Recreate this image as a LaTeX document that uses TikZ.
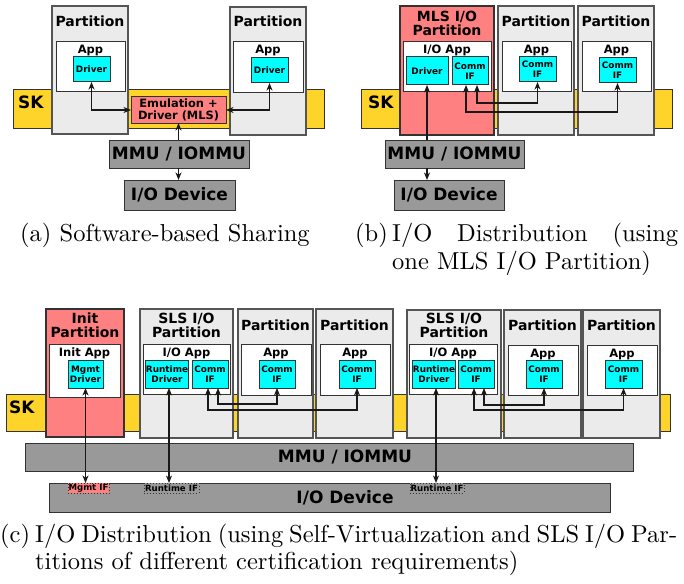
\documentclass[tikz,border=0pt]{standalone}
\usepackage{fontspec}
\newfontfamily\dejavu{DejaVu Sans}
\newfontfamily\capfont{lmroman10-regular}[Extension=.otf]
\usetikzlibrary{arrows.meta}

\definecolor{skyel}{HTML}{FFD42A}
\definecolor{salmon}{HTML}{FF8080}
\definecolor{partgray}{HTML}{EBEBEB}
\definecolor{hwgray}{HTML}{999999}
\definecolor{cyanbox}{HTML}{00FFFF}
\definecolor{edge}{HTML}{333333}
\definecolor{partedge}{HTML}{555555}

% box from (x1,y1) to (x2,y2): style, name, x1, y1, x2, y2, text
\newcommand{\rbox}[7]{\node[#1, minimum width={(#5)-(#3)}, minimum height={(#6)-(#4)}] (#2) at ({((#3)+(#5))/2},{((#4)+(#6))/2}) {#7};}

\tikzset{
  bx/.style={inner sep=0pt, outer sep=0pt},
  skbar/.style={bx, fill=skyel, draw=edge, line width=1},
  part/.style={bx, fill=partgray, draw=partedge, line width=1.1},
  mlspart/.style={part, fill=salmon, draw=edge},
  appbox/.style={bx, fill=white, draw=edge, line width=1},
  cybox/.style={bx, fill=cyanbox, draw=edge, line width=1, align=center,
    font=\dejavu\bfseries\fontsize{8.9}{10}\selectfont},
  emubox/.style={bx, fill=salmon, draw=edge, line width=1, align=center,
    font=\dejavu\bfseries\fontsize{11.4}{12}\selectfont},
  hwbox/.style={bx, fill=hwgray, draw=edge, line width=1,
    font=\dejavu\bfseries\fontsize{17}{17}\selectfont},
  hwtext/.style={inner sep=0pt, font=\dejavu\bfseries\fontsize{17}{17}\selectfont},
  ifbox/.style={bx, draw=edge, dotted, line width=0.9,
    font=\dejavu\bfseries\fontsize{8.6}{8}\selectfont},
  ptitle/.style={inner sep=0pt, anchor=base, align=center,
    font=\dejavu\bfseries\fontsize{14}{14}\selectfont},
  apptitle/.style={inner sep=0pt, anchor=base,
    font=\dejavu\bfseries\fontsize{11.5}{12}\selectfont},
  sktext/.style={inner sep=0pt, anchor=base west,
    font=\dejavu\bfseries\fontsize{17}{17}\selectfont},
  link/.style={line width=1.1, draw=black!90,
    >={Stealth[length=7.5pt,width=6pt,inset=2.2pt]}},
  captext/.style={inner sep=0pt, anchor=base west,
    font=\capfont\fontsize{24.5}{27.5}\selectfont}
}

\begin{document}
\begin{tikzpicture}[x=1pt,y=-1pt]
\useasboundingbox (0,0) rectangle (684,583);

% ---------------- (a) software-based sharing ----------------
\rbox{skbar}{skA}{13}{90}{324}{128}{}
\node[sktext] (skAt) at (18,109) {SK};
\rbox{part}{paL}{52}{6}{128}{134}{}
\node[ptitle] (paLt) at (90,27) {Partition};
\rbox{appbox}{apL}{56}{42}{125}{92}{}
\node[apptitle] (apLt) at (90.5,54) {App};
\rbox{cybox}{drL}{73}{57}{110}{82}{Driver}
\rbox{part}{paR}{230}{7}{306}{135}{}
\node[ptitle] (paRt) at (268,27) {Partition};
\rbox{appbox}{apR}{233}{42}{303}{93}{}
\node[apptitle] (apRt) at (268,54) {App};
\rbox{cybox}{drR}{251}{58}{288}{83}{Driver}
\rbox{emubox}{emu}{131}{97}{226}{123}{Emulation +\\Driver (MLS)}
\rbox{hwbox}{mmuA}{109}{140}{249}{168}{MMU / IOMMU}
\rbox{hwbox}{ioA}{124}{180}{235}{210}{I/O Device}
\draw[link,<->] (drL.south) |- (emu.west);
\draw[link,<->] (drR.south) |- (emu.east);
\draw[link,<-] (emu.south) -- (emu.south |- mmuA.north);
\draw[link,->] (emu.south |- mmuA.south) -- (emu.south |- ioA.north);

% ---------------- (b) one MLS I/O partition ----------------
\rbox{skbar}{skB}{361}{90}{672}{128}{}
\node[sktext] (skBt) at (368,109) {SK};
\rbox{mlspart}{mlsB}{400}{6}{494}{135}{}
\node[ptitle] (mlsBt) at (447,35.5) {MLS I/O\\Partition};
\rbox{appbox}{ioappB}{403}{42}{491}{92}{}
\node[apptitle] (ioappBt) at (447,54) {I/O App};
\rbox{cybox}{drB}{406}{57}{448}{85}{Driver}
\rbox{cybox}{cmB}{452}{57}{488}{85}{Comm\\IF}
\rbox{part}{pbA}{498}{6}{574}{135}{}
\node[ptitle] (pbAt) at (536,27) {Partition};
\rbox{appbox}{abA}{502}{42}{571}{92}{}
\node[apptitle] (abAt) at (536.5,54) {App};
\rbox{cybox}{cbA}{519}{57}{556}{82}{Comm\\IF}
\rbox{part}{pbB}{578}{6}{654}{135}{}
\node[ptitle] (pbBt) at (616,27) {Partition};
\rbox{appbox}{abB}{582}{42}{651}{92}{}
\node[apptitle] (abBt) at (616.5,54) {App};
\rbox{cybox}{cbB}{599}{58}{636}{83}{Comm\\IF}
\rbox{hwbox}{mmuB}{385}{140}{524}{168}{MMU / IOMMU}
\rbox{hwbox}{ioB}{394}{180}{504}{210}{I/O Device}
\draw[link,<-] (drB.south) -- (drB.south |- mmuB.north);
\draw[link,->] (drB.south |- mmuB.south) -- (drB.south |- ioB.north);
\draw[link,<->] ([xshift=7pt]cmB.south) -- ++(0,18) -| (cbA.south);
\draw[link,<->] ([xshift=-4pt]cmB.south) -- ++(0,27) -| (cbB.south);

% ---------------- (c) self-virtualization, SLS I/O partitions ----------------
\rbox{skbar}{skC}{6}{394}{670}{431}{}
\node[sktext] (skCt) at (9,413) {SK};
% init partition
\rbox{mlspart}{initC}{46}{309}{124}{437}{}
\node[ptitle] (initCt) at (85,337.5) {Init\\Partition};
\rbox{appbox}{iappC}{49}{344}{120}{397}{}
\node[apptitle] (iappCt) at (84.5,356) {Init App};
\rbox{cybox}{mdrC}{68}{360}{103}{388}{Mgmt\\Driver}
% first SLS I/O partition and its clients
\rbox{part}{slsA}{140}{309}{233}{438}{}
\node[ptitle] (slsAt) at (186.5,337.5) {SLS I/O\\Partition};
\rbox{appbox}{sappA}{143}{344}{230}{394}{}
\node[apptitle] (sappAt) at (186.5,356) {I/O App};
\rbox{cybox}{rdA}{146}{360}{188}{388}{Runtime\\Driver}
\rbox{cybox}{scA}{192}{360}{228}{388}{Comm\\IF}
\rbox{part}{pcA}{238}{309}{313}{438}{}
\node[ptitle] (pcAt) at (275.5,330.5) {Partition};
\rbox{appbox}{acA}{241}{344}{311}{395}{}
\node[apptitle] (acAt) at (276,356) {App};
\rbox{cybox}{ccA}{259}{360}{295}{388}{Comm\\IF}
\rbox{part}{pcB}{316}{309}{393}{438}{}
\node[ptitle] (pcBt) at (354.5,330.5) {Partition};
\rbox{appbox}{acB}{320}{344}{390}{395}{}
\node[apptitle] (acBt) at (355,356) {App};
\rbox{cybox}{ccB}{339}{360}{375}{388}{Comm\\IF}
% second SLS I/O partition and its clients
\rbox{part}{slsB}{407}{310}{501}{438}{}
\node[ptitle] (slsBt) at (454,337.5) {SLS I/O\\Partition};
\rbox{appbox}{sappB}{409}{344}{497}{394}{}
\node[apptitle] (sappBt) at (453,356) {I/O App};
\rbox{cybox}{rdB}{413}{360}{455}{388}{Runtime\\Driver}
\rbox{cybox}{scB}{458}{360}{494}{388}{Comm\\IF}
\rbox{part}{pcC}{504}{310}{581}{438}{}
\node[ptitle] (pcCt) at (542.5,330.5) {Partition};
\rbox{appbox}{acC}{508}{345}{578}{395}{}
\node[apptitle] (acCt) at (543,357) {App};
\rbox{cybox}{ccC}{526}{360}{562}{388}{Comm\\IF}
\rbox{part}{pcD}{583}{310}{660}{438}{}
\node[ptitle] (pcDt) at (621.5,330.5) {Partition};
\rbox{appbox}{acD}{587}{345}{657}{395}{}
\node[apptitle] (acDt) at (622,357) {App};
\rbox{cybox}{ccD}{605}{360}{642}{388}{Comm\\IF}
% hardware
\rbox{hwbox}{mmuC}{25}{443}{633}{471}{}
\node[hwtext] (mmuCt) at (345,457) {MMU / IOMMU};
\rbox{hwbox}{ioC}{49}{483}{610}{512}{}
\node[hwtext] (ioCt) at (345,498) {I/O Device};
\rbox{ifbox,fill=salmon}{mifC}{68}{483}{109}{493}{Mgmt IF}
\rbox{ifbox,fill=hwgray}{rifA}{144}{483}{199}{493}{Runtime IF}
\rbox{ifbox,fill=hwgray}{rifB}{410}{483}{464}{493}{Runtime IF}
% connectors
\draw[link,<->] (mdrC.south) -- (mdrC.south |- mifC.north);
\draw[link,<->] ([xshift=2pt]rdA.south) -- ([xshift=2pt]rdA.south |- rifA.north);
\draw[link,<->] ([xshift=2pt]rdB.south) -- ([xshift=2pt]rdB.south |- rifB.north);
\draw[link,<->] ([xshift=8pt]scA.south) -- ++(0,16) -| (ccA.south);
\draw[link,<->] ([xshift=-2pt]scA.south) -- ++(0,22) -| (ccB.south);
\draw[link,<->] ([xshift=8pt]scB.south) -- ++(0,17) -| (ccC.south);
\draw[link,<->] ([xshift=-2pt]scB.south) -- ++(0,22) -| (ccD.south);

% ---------------- captions ----------------
\node[captext] (capA) at (20,241.5) {(a) Software-based Sharing};
\node[captext] (capBl) at (355,241.5) {(b)};
\node[captext] (capB1) at (392,241.5) {\makebox[286pt][s]{I/O Distribution (using}};
\node[captext] (capB2) at (392,269) {one MLS I/O Partition)};
\node[captext] (capCl) at (0,542.3) {(c)};
\node[captext] (capC1) at (35,542.3) {\makebox[642pt][s]{I/O Distribution (using Self-Virtualization and SLS I/O Par-}};
\node[captext] (capC2) at (35,569.3) {titions of different certification requirements)};
\end{tikzpicture}
\end{document}
